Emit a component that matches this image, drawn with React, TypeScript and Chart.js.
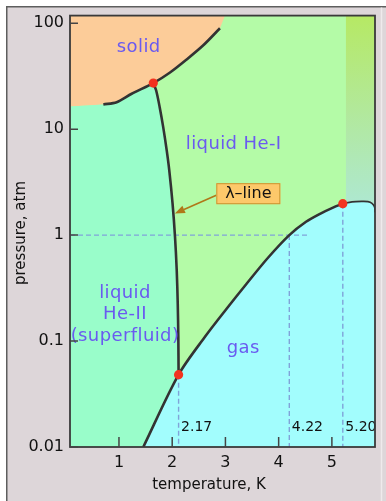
import React, { useEffect, useRef } from "react";
import { Chart, registerables } from "chart.js";

Chart.register(...registerables);

// ---- axis ranges & ticks ----
const X_MIN = 0.08;
const X_MAX = 5.81;
const Y_MIN = 0.01;
const Y_MAX = 118;
const xTicks = [1, 2, 3, 4, 5];
const yTicks = [0.01, 0.1, 1, 10, 100];
const yTickLabels = ["0.01", "0.1", "1", "10", "100"];

// ---- phase boundaries (temperature K, pressure atm) ----
const solidLeftEdge = [0.08, 16.4];
const meltingCurve = [
  [0.706, 17.1], [0.957, 17.97], [1.239, 21.6], [1.645, 27.2], [1.959, 34.25],
  [2.259, 44.93], [2.579, 61.52], [2.897, 89.6],
];
const solidTopEdge = [2.992, 118];
const lambdaLine = [
  [1.645, 27.2], [1.699, 23.17], [1.765, 16.13], [1.831, 10.45], [1.897, 6.3],
  [1.945, 4.08], [2.007, 1.98], [2.053, 0.96], [2.085, 0.4666], [2.104, 0.2265],
  [2.115, 0.1096], [2.12, 0.0482],
];
const vaporCurve = [
  [1.457, 0.01], [2.12, 0.0482], [2.616, 0.1098], [3.011, 0.1987], [3.405, 0.3516],
  [3.8, 0.6115], [4.2, 1.0], [4.514, 1.3355], [4.777, 1.589], [5.021, 1.818],
  [5.205, 1.98],
];
const supercriticalEdge = [
  [5.205, 1.98], [5.378, 2.06], [5.56, 2.08], [5.678, 2.07], [5.753, 1.995],
  [5.8, 1.85], [5.81, 1.64],
];
const stripStart = [5.26, 2.02];
const specialPoints = [[1.645, 27.2], [2.12, 0.0482], [5.205, 1.98]];

// ---- reference markers ----
const oneAtm = 1;
const oneAtmLineEnd = 4.55;
const markerTemps = [2.12, 4.2, 5.205];
const markerTops = [0.0482, 1, 1.98];
const markerLabels = ["2.17", "4.22", "5.20"];
const markerLabelP = 0.01426;

// ---- text annotations (data coordinates) ----
const regionLabels = [
  { text: "solid", x: 1.371, y: 53.2 },
  { text: "liquid He-I", x: 3.155, y: 6.44 },
  { text: "gas", x: 3.336, y: 0.0778 },
];
const heIILines = ["liquid", "He-II", "(superfluid)"];
const heIIAnchor = { x: 1.113, y: 0.2566 };
const calloutText = "λ–line";
const calloutAnchor = { x: 3.43, y: 2.46 };
const calloutTip = { x: 2.05, y: 1.6 };

const FONT = '"DejaVu Sans", sans-serif';
const pts = (a: number[][]) => a.map(([x, y]) => ({ x, y }));

export default function App() {
  const ref = useRef<HTMLCanvasElement>(null);

  useEffect(() => {
    const canvas = ref.current!;

    const overlay = {
      id: "overlay",
      beforeDraw(chart: any) {
        const c = chart.ctx;
        c.save();
        c.fillStyle = "#ddd6d9";
        c.fillRect(6, 6, 380, 495);
        c.strokeStyle = "#5e5e5e";
        c.lineWidth = 1.5;
        c.beginPath();
        c.moveTo(6.75, 501);
        c.lineTo(6.75, 6.75);
        c.lineTo(386, 6.75);
        c.stroke();
        c.strokeStyle = "#efeaec";
        c.lineWidth = 1.5;
        c.beginPath();
        c.moveTo(381.5, 7.5);
        c.lineTo(381.5, 501);
        c.stroke();
        c.restore();
      },
      beforeDatasetsDraw(chart: any) {
        const c = chart.ctx;
        const a = chart.chartArea;
        c.save();
        c.fillStyle = "#b4fba7";
        c.fillRect(a.left, a.top, a.right - a.left, a.bottom - a.top);
        c.restore();
      },
      afterDatasetsDraw(chart: any) {
        const c = chart.ctx;
        const a = chart.chartArea;
        const xs = chart.scales.x;
        const ys = chart.scales.y;
        c.save();

        // marker value labels
        c.font = `14px ${FONT}`;
        c.fillStyle = "#111";
        c.textAlign = "left";
        c.textBaseline = "alphabetic";
        markerTemps.forEach((t, i) => {
          c.fillText(markerLabels[i], xs.getPixelForValue(t) + 2.5, ys.getPixelForValue(markerLabelP));
        });

        // region labels
        c.font = `18px ${FONT}`;
        c.fillStyle = "#6a5af0";
        c.textAlign = "center";
        (c as any).letterSpacing = "0.4px";
        regionLabels.forEach((l) => {
          c.fillText(l.text, xs.getPixelForValue(l.x), ys.getPixelForValue(l.y));
        });
        const hx = xs.getPixelForValue(heIIAnchor.x);
        const hy = ys.getPixelForValue(heIIAnchor.y);
        heIILines.forEach((t, i) => c.fillText(t, hx, hy + i * 21.8));
        (c as any).letterSpacing = "0px";

        // callout
        const bx = xs.getPixelForValue(calloutAnchor.x);
        const by = ys.getPixelForValue(calloutAnchor.y);
        const bw = 64, bh = 21;
        const tx = xs.getPixelForValue(calloutTip.x);
        const ty = ys.getPixelForValue(calloutTip.y);
        const sx = bx - bw / 2;
        const sy = by + 1.5;
        c.strokeStyle = "#b07818";
        c.fillStyle = "#b07818";
        c.lineWidth = 1.6;
        const ang = Math.atan2(ty - sy, tx - sx);
        const hl = 10, hw = 4;
        const ex = tx - Math.cos(ang) * hl;
        const ey = ty - Math.sin(ang) * hl;
        c.beginPath();
        c.moveTo(sx, sy);
        c.lineTo(ex, ey);
        c.stroke();
        c.beginPath();
        c.moveTo(tx, ty);
        c.lineTo(ex + Math.sin(ang) * hw, ey - Math.cos(ang) * hw);
        c.lineTo(ex - Math.sin(ang) * hw, ey + Math.cos(ang) * hw);
        c.closePath();
        c.fill();
        c.fillStyle = "#fdc86a";
        c.fillRect(bx - bw / 2, by - bh / 2, bw, bh);
        c.strokeStyle = "#c99532";
        c.lineWidth = 1;
        c.strokeRect(bx - bw / 2 + 0.5, by - bh / 2 + 0.5, bw - 1, bh - 1);
        c.font = `16px ${FONT}`;
        c.fillStyle = "#111";
        c.textAlign = "center";
        c.textBaseline = "middle";
        c.fillText(calloutText, bx, by + 0.5);

        // frame
        c.strokeStyle = "#3a3a3a";
        c.lineWidth = 1.8;
        c.strokeRect(a.left, a.top, a.right - a.left, a.bottom - a.top);

        // inward ticks
        c.strokeStyle = "#444";
        c.lineWidth = 1.5;
        c.beginPath();
        xTicks.forEach((v) => {
          const p = xs.getPixelForValue(v);
          c.moveTo(p, a.bottom);
          c.lineTo(p, a.bottom - 10);
        });
        yTicks.forEach((v) => {
          const p = ys.getPixelForValue(v);
          c.moveTo(a.left, p);
          c.lineTo(a.left + 8, p);
        });
        c.stroke();

        // axis titles
        c.fillStyle = "#111";
        c.font = `15px ${FONT}`;
        c.textAlign = "center";
        c.textBaseline = "middle";
        c.fillText("temperature, K", 209, 485);
        c.translate(21, 233);
        c.rotate(-Math.PI / 2);
        c.fillText("pressure, atm", 0, 0);
        c.restore();
      },
    };

    const stroke = (data: number[][], width: number, order: number) => ({
      data: pts(data),
      borderColor: "#333",
      borderWidth: width,
      pointRadius: 0,
      tension: 0.3,
      fill: false,
      order,
    });
    const dashed = (data: { x: number; y: number }[]) => ({
      data,
      borderColor: "#80a3d9",
      borderWidth: 1.4,
      borderDash: [5, 3],
      pointRadius: 0,
      fill: false,
      order: 2,
    });

    const chart = new Chart(canvas, {
      type: "line",
      data: {
        datasets: [
          {
            data: pts(specialPoints),
            showLine: false,
            pointRadius: 4.6,
            pointBackgroundColor: "#f2331f",
            pointBorderColor: "#f2331f",
            pointBorderWidth: 0,
            order: 0,
          } as any,
          stroke(meltingCurve, 2.6, 1),
          stroke(lambdaLine, 2.6, 1),
          stroke(vaporCurve, 2.6, 1),
          stroke(supercriticalEdge, 1.6, 1),
          dashed([{ x: X_MIN, y: oneAtm }, { x: oneAtmLineEnd, y: oneAtm }]),
          ...markerTemps.map((t, i) =>
            dashed([{ x: t, y: markerTops[i] }, { x: t, y: Y_MIN }])
          ),
          {
            data: pts([...vaporCurve, ...supercriticalEdge.slice(1)]),
            borderColor: "rgba(0,0,0,0)",
            borderWidth: 0,
            backgroundColor: "#a2fdfd",
            pointRadius: 0,
            tension: 0.3,
            fill: "start",
            order: 3,
          },
          {
            data: pts([stripStart, ...supercriticalEdge.slice(1)]),
            borderColor: "rgba(0,0,0,0)",
            borderWidth: 0,
            backgroundColor: (ctx: any) => {
              const ch = ctx.chart;
              const area = ch.chartArea;
              if (!area) return "#b2e99a";
              const g = ch.ctx.createLinearGradient(0, area.top, 0, ch.scales.y.getPixelForValue(2));
              g.addColorStop(0, "#b6e964");
              g.addColorStop(1, "#aee8d0");
              return g;
            },
            pointRadius: 0,
            tension: 0.3,
            fill: "end",
            order: 4,
          },
          {
            data: pts([solidLeftEdge, ...meltingCurve.slice(0, 4), ...lambdaLine.slice(1)]),
            borderColor: "rgba(0,0,0,0)",
            borderWidth: 0,
            backgroundColor: "#99fdca",
            pointRadius: 0,
            fill: "start",
            order: 5,
          },
          {
            data: pts([solidLeftEdge, ...meltingCurve, solidTopEdge]),
            borderColor: "rgba(0,0,0,0)",
            borderWidth: 0,
            backgroundColor: "#fccc99",
            pointRadius: 0,
            fill: "end",
            order: 6,
          },
        ] as any,
      },
      options: {
        animation: false,
        responsive: false,
        devicePixelRatio: 1,
        events: [],
        layout: { padding: { left: 0, top: 15, right: 11, bottom: 0 } },
        plugins: {
          legend: { display: false },
          tooltip: { enabled: false },
        },
        elements: { point: { radius: 0 } },
        scales: {
          x: {
            type: "linear",
            min: X_MIN,
            max: X_MAX,
            afterBuildTicks: (s: any) => {
              s.ticks = xTicks.map((v) => ({ value: v }));
            },
            afterFit: (s: any) => {
              s.height = 54;
            },
            grid: { display: false, drawTicks: false },
            border: { display: false },
            ticks: {
              font: { family: FONT, size: 16 },
              color: "#111",
              padding: 6,
              maxRotation: 0,
              callback: (v: any) => String(v),
            },
          },
          y: {
            type: "logarithmic",
            min: Y_MIN,
            max: Y_MAX,
            afterBuildTicks: (s: any) => {
              s.ticks = yTicks.map((v) => ({ value: v }));
            },
            afterFit: (s: any) => {
              s.width = 70;
            },
            grid: { display: false, drawTicks: false },
            border: { display: false },
            ticks: {
              font: { family: FONT, size: 16 },
              color: "#111",
              padding: 6,
              callback: (v: any) => {
                const i = yTicks.indexOf(Number(v));
                return i >= 0 ? yTickLabels[i] : "";
              },
            },
          },
        },
      } as any,
      plugins: [overlay],
    });

    return () => chart.destroy();
  }, []);

  return (
    <div style={{ position: "absolute", left: 0, top: 0, width: 386, height: 501 }}>
      <canvas ref={ref} width={386} height={501} style={{ display: "block", width: 386, height: 501 }} />
    </div>
  );
}
